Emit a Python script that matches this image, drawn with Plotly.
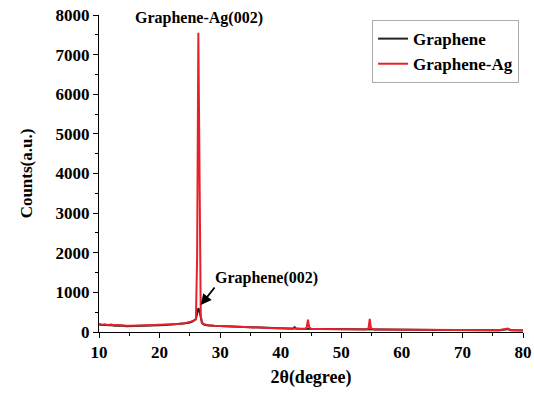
import plotly.graph_objects as go

# Graphene (black)
x_g = [10, 10.5, 11, 11.5, 12, 12.5, 13, 13.5, 14, 14.5, 15, 16, 17, 18, 19, 20, 21, 22, 23, 24,
       25, 25.5, 26, 26.2, 26.4, 26.6, 26.8, 27, 27.3, 27.6, 28, 29, 30, 31, 32, 33, 34, 35, 36,
       37, 38, 39, 40, 41, 42, 42.3, 42.5, 43, 44, 45, 46, 47, 48, 50, 52, 54, 56, 58, 60, 62,
       64, 66, 68, 70, 72, 74, 76, 77.5, 78, 80]
y_g = [190, 175, 185, 168, 176, 160, 165, 152, 158, 146, 150, 148, 156, 160, 166, 170, 176, 186,
       196, 212, 240, 270, 330, 450, 600, 520, 350, 230, 190, 176, 166, 156, 150, 140, 132, 122,
       116, 110, 106, 100, 96, 92, 88, 86, 82, 120, 86, 80, 78, 74, 72, 70, 68, 64, 62, 60, 58,
       56, 62, 55, 52, 50, 48, 46, 45, 44, 42, 72, 45, 40]

# Graphene-Ag (red)
x_r = [10, 10.5, 11, 11.5, 12, 12.5, 13, 13.5, 14, 14.5, 15, 16, 17, 18, 19, 20, 21, 22, 23, 24,
       25, 25.5, 26, 26.2, 26.4, 26.6, 26.8, 27, 27.3, 27.6, 28, 29, 30, 31, 32, 33, 34, 35, 36,
       37, 38, 39, 40, 41, 42, 43, 44, 44.3, 44.5, 44.7, 45, 46, 47, 48, 50, 52, 54, 54.5, 54.7,
       54.9, 55.5, 56, 58, 60, 62, 64, 66, 68, 70, 72, 74, 76, 77.5, 78, 80]
y_r = [200, 185, 192, 178, 186, 170, 174, 162, 166, 156, 160, 158, 164, 168, 174, 178, 184, 192,
       202, 218, 245, 275, 320, 1900, 7550, 2600, 420, 240, 196, 180, 170, 160, 152, 144, 136, 128,
       120, 114, 108, 104, 100, 96, 92, 88, 86, 82, 84, 120, 310, 120, 80, 76, 72, 70, 66, 64, 62,
       90, 330, 90, 62, 60, 58, 64, 56, 54, 52, 50, 48, 47, 46, 44, 90, 48, 42]

FONT = "Liberation Serif"

fig = go.Figure()
fig.add_trace(go.Scatter(x=x_g, y=y_g, mode="lines", name="Graphene",
                         line=dict(color="#222222", width=2)))
fig.add_trace(go.Scatter(x=x_r, y=y_r, mode="lines", name="Graphene-Ag",
                         line=dict(color="#e8202a", width=2)))

fig.add_annotation(x=26.5, y=7640, text="Graphene-Ag(002)", showarrow=False,
                   yanchor="bottom", font=dict(size=16, family=FONT, weight="bold", color="black"))
fig.add_annotation(x=28.8, y=1360, text="Graphene(002)", showarrow=False,
                   xanchor="left", yanchor="middle",
                   font=dict(size=16, family=FONT, weight="bold", color="black"))
fig.add_annotation(x=26.8, y=680, text="", showarrow=True,
                   arrowhead=2, arrowsize=1.2, arrowwidth=1.8, arrowcolor="black",
                   ax=15, ay=-19)

fig.update_layout(
    width=534, height=394,
    margin=dict(l=99, r=11, t=15, b=62, autoexpand=False),
    paper_bgcolor="white", plot_bgcolor="white",
    font=dict(family=FONT, size=16, color="black", weight="bold"),
    showlegend=True,
    legend=dict(x=0.644, y=0.984, xanchor="left", yanchor="top",
                bordercolor="#aaaaaa", borderwidth=1, bgcolor="white",
                font=dict(size=17, family=FONT, weight="bold"),
                tracegroupgap=0, itemwidth=30),
)
fig.update_xaxes(range=[10, 80], tickvals=[10, 20, 30, 40, 50, 60, 70, 80], automargin=False,
                 showline=True, linecolor="black", linewidth=1, mirror=False,
                 ticks="outside", ticklen=5, tickcolor="black", showgrid=False, zeroline=False,
                 minor=dict(dtick=5, tick0=10, ticks="outside", ticklen=3, tickcolor="black", showgrid=False),
                 title=dict(text="2θ(degree)", font=dict(size=18, family=FONT, weight="bold"), standoff=8),
                 tickfont=dict(size=17, family=FONT, weight="bold"))
fig.update_yaxes(range=[0, 8000], dtick=1000, automargin=False,
                 showline=True, linecolor="black", linewidth=1, mirror=False,
                 ticks="outside", ticklen=5, tickcolor="black", showgrid=False, zeroline=False,
                 minor=dict(dtick=500, ticks="outside", ticklen=3, tickcolor="black", showgrid=False),
                 title=dict(text="Counts(a.u.)", font=dict(size=17, family=FONT, weight="bold"), standoff=18),
                 tickfont=dict(size=17, family=FONT, weight="bold"))

fig.write_html("out.html")
